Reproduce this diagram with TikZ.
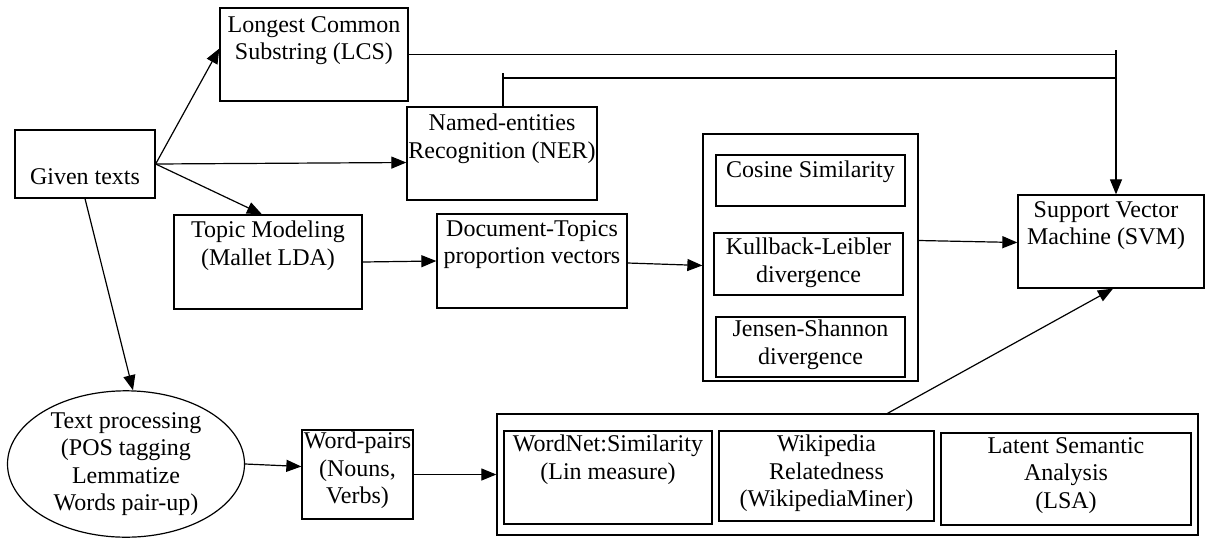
\documentclass[tikz,border=0pt]{standalone}
\usepackage{fontspec}
\setmainfont{Liberation Serif}
\usetikzlibrary{arrows.meta,shapes.geometric}
\begin{document}
\begin{tikzpicture}[x=1pt,y=-1pt,
  every node/.style={font=\fontsize{24}{27.5}\selectfont},
  box/.style={draw,line width=1.3pt,inner sep=0pt},
  txt/.style={align=center,inner sep=0pt,anchor=north},
  arr/.style={line width=1.2pt,-{Triangle[length=15pt,width=12pt]}},
  ln/.style={line width=1.2pt}]
\useasboundingbox[fill=white] (0,0) rectangle (1205,539);
% boxes
\node[box,minimum width=140,minimum height=68] (given) at (85,164) {};
\node[txt,anchor=base] at (85,184) {Given texts};
\node[box,minimum width=188,minimum height=93] (lcs) at (314,54.5) {};
\node[txt] at (314,16) {Longest Common\\Substring (LCS)};
\node[box,minimum width=190,minimum height=93] (ner) at (502,153.5) {};
\node[txt] at (502,114) {Named-entities\\Recognition (NER)};
\node[box,minimum width=188,minimum height=94] (topic) at (268,262) {};
\node[txt] at (268,221) {Topic Modeling\\(Mallet LDA)};
\node[box,minimum width=190,minimum height=94] (doc) at (532,261) {};
\node[txt] at (532,220) {Document-Topics\\proportion vectors};
\node[box,minimum width=215,minimum height=247] (cont) at (810.5,257.5) {};
\node[box,minimum width=189,minimum height=51] (cos) at (810.5,180.5) {};
\node[txt] at (810.5,161) {Cosine Similarity};
\node[box,minimum width=189,minimum height=62] (kl) at (808.5,264) {};
\node[txt] at (808.5,238) {Kullback-Leibler\\divergence};
\node[box,minimum width=189,minimum height=60] (js) at (810.5,347) {};
\node[txt] at (810.5,320) {Jensen-Shannon\\divergence};
\node[box,minimum width=186,minimum height=93] (svm) at (1111,241.5) {};
\node[txt] at (1106,201) {Support Vector\\Machine (SVM)};
\node[draw,line width=1.2pt,ellipse,minimum width=237,minimum height=144,inner sep=0pt,align=center] (tp) at (126,464) {Text processing\\(POS tagging\\Lemmatize\\Words pair-up)};
\node[box,minimum width=111,minimum height=89] (wp) at (357.5,474.5) {};
\node[txt] at (357.5,432) {Word-pairs\\(Nouns,\\Verbs)};
\node[box,minimum width=701,minimum height=121] (bot) at (847.5,474.5) {};
\node[box,minimum width=208,minimum height=93] (wn) at (608,477.5) {};
\node[txt] at (608,435) {WordNet:Similarity\\(Lin measure)};
\node[box,minimum width=215,minimum height=90] (wiki) at (826.5,476) {};
\node[txt] at (826.5,435) {Wikipedia\\Relatedness\\(WikipediaMiner)};
\node[box,minimum width=250,minimum height=92] (lsa) at (1066,479) {};
\node[txt] at (1066,437) {Latent Semantic\\Analysis\\(LSA)};
% coordinates
\coordinate (jt) at (1116,50);
\coordinate (nertop) at (503,73);
\coordinate (nerjoin) at (503,78);
% connectors
\draw[arr] (given.east) -- ([yshift=6pt]lcs.west);
\draw[arr] (given.east) -- ([yshift=-9pt]ner.west);
\draw[arr] (given.east) -- ([xshift=-6pt]topic.north);
\draw[arr] (given.south) -- ([xshift=7pt]tp.north);
\draw[arr] (topic.east) -- (doc.west);
\draw[arr] ([yshift=-2pt]doc.east) -- ([yshift=-8pt]cont.west);
\draw[arr] ([yshift=17pt]cont.east) -- ([yshift=-1pt]svm.west);
\draw[ln] (lcs.east) -- (lcs.east -| jt);
\draw[arr] (jt) -- (jt |- svm.north);
\draw[ln] (ner.north -| nertop) -- (nertop);
\draw[ln] (nerjoin) -- (nerjoin -| jt);
\draw[arr] ([xshift=40pt]bot.north) -- ([xshift=2pt]svm.south);
\draw[arr] (tp.east) -- ([yshift=8pt]wp.west);
\draw[arr] (wp.east) -- (bot.west);
\end{tikzpicture}
\end{document}
